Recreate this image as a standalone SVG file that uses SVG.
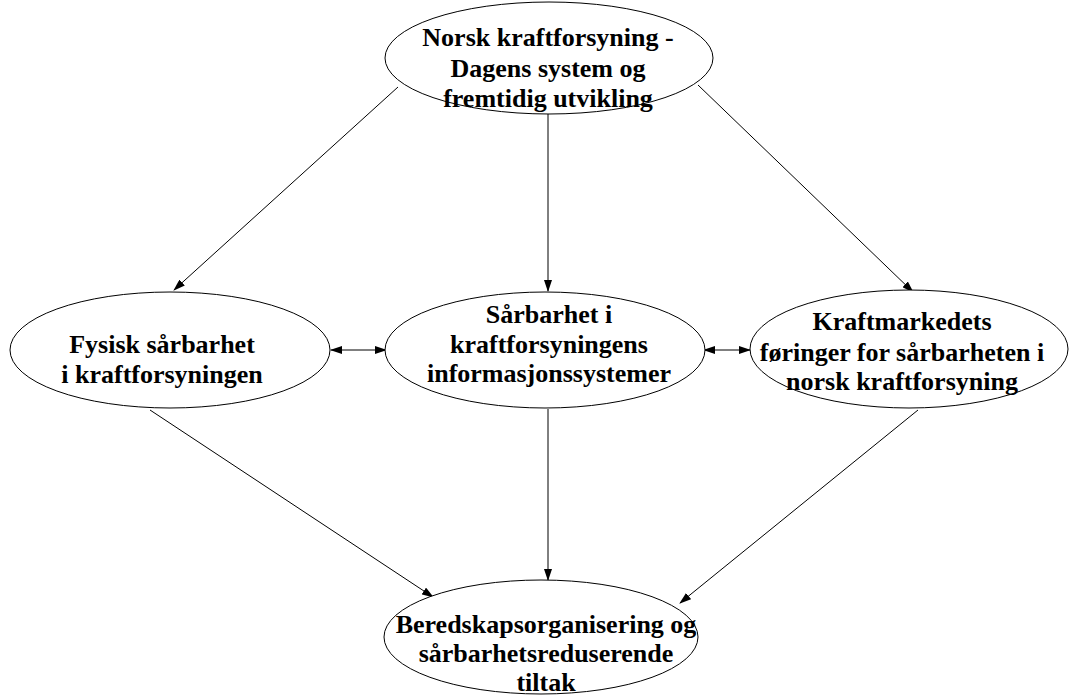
<svg xmlns="http://www.w3.org/2000/svg" width="1069" height="697" viewBox="0 0 1069 697">
<style>
.node ellipse{fill:#fff;stroke:#000;stroke-width:1}
.node text{font-family:"Liberation Serif","Times New Roman",serif;font-weight:bold;font-size:26px;fill:#000;text-anchor:middle}
.conn line{stroke:#000;stroke-width:1;fill:none}
</style>
<defs>
<marker id="ah" markerUnits="userSpaceOnUse" markerWidth="12" markerHeight="8" refX="11" refY="4" orient="auto-start-reverse" viewBox="0 0 12 8">
<path d="M0,0 L12,4 L0,8 Z" fill="#000"/>
</marker>
</defs>
<rect width="1069" height="697" fill="#fff"/>
<g id="connectors" class="conn">
<line x1="398" y1="87" x2="174" y2="290" marker-end="url(#ah)"/>
<line x1="548" y1="114" x2="548" y2="291" marker-end="url(#ah)"/>
<line x1="698" y1="85" x2="913" y2="292" marker-end="url(#ah)"/>
<line x1="331" y1="350" x2="386" y2="350" marker-start="url(#ah)" marker-end="url(#ah)"/>
<line x1="704" y1="350" x2="750" y2="350" marker-start="url(#ah)" marker-end="url(#ah)"/>
<line x1="150" y1="410" x2="433" y2="597" marker-end="url(#ah)"/>
<line x1="548" y1="409" x2="548" y2="580" marker-end="url(#ah)"/>
<line x1="918" y1="410" x2="680" y2="603" marker-end="url(#ah)"/>
</g>
<g id="n-top" class="node">
<ellipse cx="549" cy="58" rx="164" ry="56"/>
<text x="548" y="46">Norsk kraftforsyning -</text>
<text x="548" y="77">Dagens system og</text>
<text x="548" y="107">fremtidig utvikling</text>
</g>
<g id="n-left" class="node">
<ellipse cx="170" cy="350" rx="160" ry="58"/>
<text x="162" y="353">Fysisk sårbarhet</text>
<text x="162" y="383">i kraftforsyningen</text>
</g>
<g id="n-mid" class="node">
<ellipse cx="545" cy="350" rx="160" ry="58"/>
<text x="549" y="323">Sårbarhet i</text>
<text x="549" y="353">kraftforsyningens</text>
<text x="549" y="382">informasjonssystemer</text>
</g>
<g id="n-right" class="node">
<ellipse cx="909" cy="349" rx="159" ry="59"/>
<text x="902" y="330">Kraftmarkedets</text>
<text x="902" y="361">føringer for sårbarheten i</text>
<text x="902" y="390">norsk kraftforsyning</text>
</g>
<g id="n-bottom" class="node">
<ellipse cx="541" cy="637" rx="157" ry="57"/>
<text x="546" y="633">Beredskapsorganisering og</text>
<text x="546" y="662">sårbarhetsreduserende</text>
<text x="546" y="691">tiltak</text>
</g>
</svg>
